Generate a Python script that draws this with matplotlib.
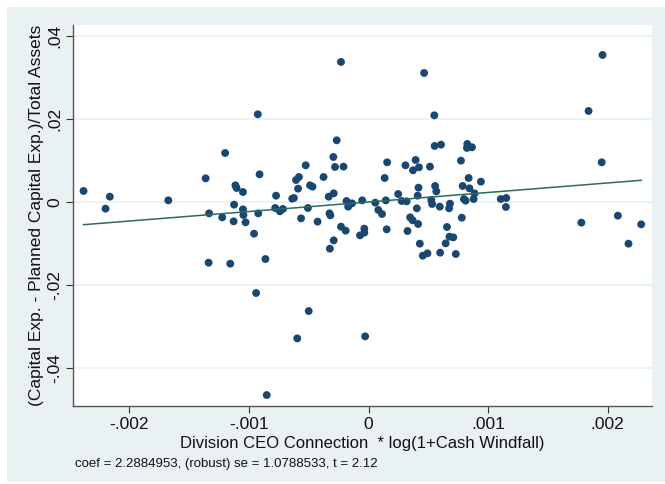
import matplotlib
matplotlib.use("Agg")
import matplotlib.pyplot as plt
import numpy as np

# residualized x (units of 1e-3) and residualized y
x_e3 = [-2.383, -2.199, -2.163, -1.674, -1.362, -1.333, -1.337, -1.223, -1.199, -1.156,
        -1.124, -1.128, -1.113, -1.103, -1.050, -1.050, -1.046, -1.028, -0.957, -0.926,
        -0.922, -0.911, -0.940, -0.862, -0.851, -0.773, -0.780, -0.741, -0.716, -0.638,
        -0.624, -0.606, -0.582, -0.589, -0.564, -0.596, -0.525, -0.500, -0.507, -0.489,
        -0.468, -0.426, -0.376, -0.333, -0.326, -0.319, -0.323, -0.291, -0.291, -0.294,
        -0.280, -0.266, -0.230, -0.230, -0.209, -0.191, -0.184, -0.170, -0.138, -0.071,
        -0.053, -0.035, -0.035, -0.028, 0.057, 0.082, 0.113, 0.135, 0.145, 0.152,
        0.156, 0.248, 0.277, 0.309, 0.319, 0.326, 0.348, 0.369, 0.372, 0.394,
        0.404, 0.411, 0.415, 0.418, 0.422, 0.429, 0.454, 0.465, 0.493, 0.514,
        0.525, 0.532, 0.550, 0.553, 0.557, 0.567, 0.596, 0.599, 0.606, 0.645,
        0.656, 0.674, 0.681, 0.677, 0.709, 0.730, 0.773, 0.780, 0.787, 0.798,
        0.812, 0.826, 0.823, 0.837, 0.844, 0.865, 0.879, 0.887, 0.940, 1.106,
        1.152, 1.149, 1.780, 1.840, 1.957, 1.950, 2.085, 2.174, 2.280]
y_vals = [0.00265, -0.0016, 0.00128, 0.0004, 0.00569, -0.00273, -0.01459, -0.00369, 0.01178, -0.01483,
          -0.00064, -0.00465, 0.00401, 0.00337, 0.0024, -0.00176, -0.00313, -0.00489, -0.00762, 0.02108,
          -0.00273, 0.00665, -0.02188, -0.01371, -0.04641, 0.00152, -0.00144, -0.00224, -0.00168, 0.0008,
          0.00096, 0.00529, 0.00601, 0.00321, -0.00393, -0.03279, 0.00882, -0.02621, -0.00144, 0.00401,
          0.00369, -0.00473, 0.00601, 0.00128, -0.00273, -0.00321, -0.01122, -0.00922, 0.00208, 0.01082,
          0.00842, 0.01483, 0.03367, -0.00593, 0.0085, -0.00689, 0.00024, -0.00112, -0.00032, -0.00802,
          0.0004, -0.00641, -0.00737, -0.0323, -0.00016, -0.00192, -0.00289, 0.00577, 0.0004, -0.00657,
          0.00954, 0.00192, 0.00024, 0.00882, 0.00016, -0.00697, -0.00369, -0.00441, 0.00762, 0.0101,
          -0.00152, 0.00152, -0.00529, 0.00345, 0.00834, -0.01002, -0.01291, 0.03102, -0.01234, 0.0085,
          0.00048, -0.00048, 0.02084, 0.01347, 0.00385, 0.00256, -0.00112, -0.01218, 0.01379, -0.00994,
          -0.00601, -0.00152, -0.0004, -0.00834, -0.0085, -0.0125, 0.00994, -0.00377, 0.00385, 0.00072,
          0.00032, 0.01395, 0.01299, 0.00577, 0.00329, 0.01315, 0.00072, 0.00208, 0.00489, 0.00072,
          0.00096, -0.0012, -0.00497, 0.02188, 0.03535, 0.00954, -0.00329, -0.01002, -0.00537]

coef = 2.2884953
se = 1.0788533
tstat = 2.12

x_ticks = [-0.002, -0.001, 0.0, 0.001, 0.002]
x_ticklabels = ["-.002", "-.001", "0", ".001", ".002"]
y_ticks = [-0.04, -0.02, 0.0, 0.02, 0.04]
y_ticklabels = ["-.04", "-.02", "0", ".02", ".04"]

x_label = "Division CEO Connection  * log(1+Cash Windfall)"
y_label = "(Capital Exp. - Planned Capital Exp.)/Total Assets"
note = "coef = 2.2884953, (robust) se = 1.0788533, t = 2.12"

x = np.array(x_e3) * 1e-3
y = np.array(y_vals)

plt.rcParams['font.family'] = ['Liberation Sans', 'DejaVu Sans']

W, H = 665, 484
fig = plt.figure(figsize=(W / 100, H / 100), dpi=100)
fig.patch.set_facecolor('white')
bg = '#EAF1F3'
fig.patches.append(plt.Rectangle((7 / W, 2 / H), 1, 1 - 9 / H, transform=fig.transFigure,
                                 facecolor=bg, edgecolor='none', zorder=-10))

left, right, top, bottom = 73, 651.7, 25, 405.7
ax = fig.add_axes([left / W, 1 - bottom / H, (right - left) / W, (bottom - top) / H])
ax.set_facecolor('white')

ax.set_xlim(-0.002471, 0.002368)
ax.set_ylim(-0.04897, 0.04255)

for yt in y_ticks:
    ax.axhline(yt, color='#EAF1F3', lw=1.2, zorder=0)

ax.scatter(x, y, s=32, color='#1A476F', edgecolors='none', zorder=3)
xl = np.array([x.min(), x.max()])
ax.plot(xl, coef * xl, color='#2C6B5E', lw=1.1, zorder=4)

for s in ['top', 'right']:
    ax.spines[s].set_visible(False)
for s in ['left', 'bottom']:
    ax.spines[s].set_color('#555555')
    ax.spines[s].set_linewidth(1.0)

ax.set_xticks(x_ticks)
ax.set_xticklabels(x_ticklabels)
ax.set_yticks(y_ticks)
ax.set_yticklabels(y_ticklabels, rotation=90, va='center')
ax.tick_params(axis='both', length=5, width=0.8, color='#333333', labelsize=12.5,
               labelcolor='#111111', pad=3)

ax.set_xlabel(x_label, fontsize=12, color='#111111', labelpad=3)
ax.set_ylabel(y_label, fontsize=12.5, color='#111111', labelpad=2)

fig.text(75 / W, 1 - 464 / H, note, fontsize=9.5, color='#111111', va='center', ha='left')

fig.savefig('out.png', dpi=100, facecolor=fig.get_facecolor())
